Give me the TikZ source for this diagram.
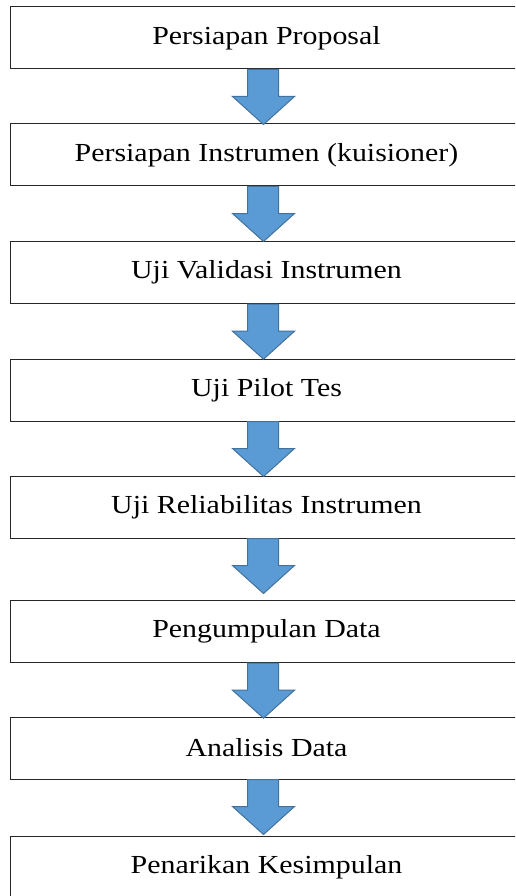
\documentclass[tikz,border=0pt]{standalone}
\usepackage{fontspec}
\setmainfont{Liberation Serif}[FakeStretch=1.15]
\usetikzlibrary{calc}
\definecolor{arrfill}{HTML}{5B9BD5}
\definecolor{arrline}{HTML}{41719C}
\tikzset{
  stepbox/.style={draw=black!85, line width=1pt, rectangle, minimum width=513pt, minimum height=62pt, inner sep=0pt, font=\fontsize{26}{30}\selectfont},
  blockarrow/.style={fill=arrfill, draw=arrline, line width=1pt, line join=miter}
}
\newcommand{\blockdown}[1]{%
  \draw[blockarrow] ($(#1.south)+(-19,0)$) -- ++(31,0) -- ++(0,27) -- ++(16,0) -- ++(-31,28) -- ++(-31,-28) -- ++(15,0) -- cycle;}
\begin{document}
\begin{tikzpicture}[x=1pt,y=-1pt]
\useasboundingbox (0,0) rectangle (515,896);
\clip (0,0) rectangle (515,896);
\fill[white] (0,0) rectangle (515,896);
\node[stepbox] (b1) at (266.5,38) {Persiapan Proposal};
\node[stepbox] (b2) at (266.5,155) {Persiapan Instrumen (kuisioner)};
\node[stepbox] (b3) at (266.5,272.7) {Uji Validasi Instrumen};
\node[stepbox] (b4) at (266.5,390) {Uji Pilot Tes};
\node[stepbox] (b5) at (266.5,507) {Uji Reliabilitas Instrumen};
\node[stepbox] (b6) at (266.5,631.7) {Pengumpulan Data};
\node[stepbox] (b7) at (266.5,748) {Analisis Data};
\node[stepbox] (b8) at (266.5,867) {Penarikan Kesimpulan};
\blockdown{b1}
\blockdown{b2}
\blockdown{b3}
\blockdown{b4}
\blockdown{b5}
\blockdown{b6}
\blockdown{b7}
\end{tikzpicture}
\end{document}
